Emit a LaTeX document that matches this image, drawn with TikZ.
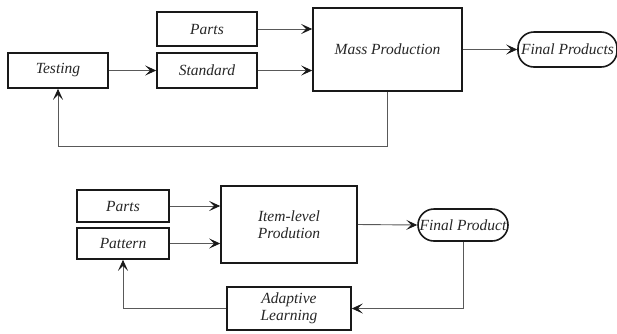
\documentclass[tikz,border=0pt]{standalone}
\usepackage{fontspec}
\setmainfont{Liberation Serif}
\usepackage{tikz}
\usetikzlibrary{arrows.meta}
\usetikzlibrary{shapes}

\begin{document}
\begin{tikzpicture}
[
    x = 1pt, y = -1pt,
    every node/.append style = {font = \fontsize{15.5}{17}\selectfont\itshape, text = black!85},
    block/.style = {draw = black!90, line width = 1.6pt, rectangle, inner sep = 0pt, align = center},
    product/.style = {block, rounded corners = 16pt},
    link/.style = {draw = black!65, line width = 0.9pt, -{Stealth[length = 11pt, width = 10pt, inset = 5pt, black!90]}}
]
\useasboundingbox (0,0) rectangle (617,333);

% mass production
\node [block, minimum width = 100pt, minimum height = 35pt] (testing) at (58,70.5) {Testing};
\node [block, minimum width = 100pt, minimum height = 34pt] (parts) at (207,29) {Parts};
\node [block, minimum width = 100pt, minimum height = 35pt] (standard) at (207,70.5) {Standard};
\node [block, minimum width = 149pt, minimum height = 83pt] (mass) at (387.5,49.5) {Mass Production};
\node [product, minimum width = 99pt, minimum height = 35pt] (final) at (567.5,49.5) {Final Products};
\coordinate (loop) at (mass.south |- 0,146);

\draw [link] (parts.east) -- (parts.east -| mass.west);
\draw [link] (standard.east) -- (standard.east -| mass.west);
\draw [link] (testing.east) -- (standard.west);
\draw [link] (mass.east) -- (final.west);
\draw [link] (mass.south) -- (loop) -| (testing.south);

% item-level production
\node [block, minimum width = 92pt, minimum height = 32pt] (partsB) at (123,206) {Parts};
\node [block, minimum width = 92pt, minimum height = 31pt] (pattern) at (123,243.5) {Pattern};
\node [block, minimum width = 136pt, minimum height = 77pt] (item) at (289,224.5) {Item-level\\Prodution};
\node [product, minimum width = 90pt, minimum height = 32pt] (finalB) at (463,225) {Final Product};
\node [block, minimum width = 124pt, minimum height = 43pt] (adaptive) at (289,308.5) {Adaptive\\Learning};

\draw [link] (partsB.east) -- (partsB.east -| item.west);
\draw [link] (pattern.east) -- (pattern.east -| item.west);
\draw [link] (item.east) -- (finalB.west);
\draw [link] (finalB.south) |- (adaptive.east);
\draw [link] (adaptive.west) -| (pattern.south);

\end{tikzpicture}
\end{document}
